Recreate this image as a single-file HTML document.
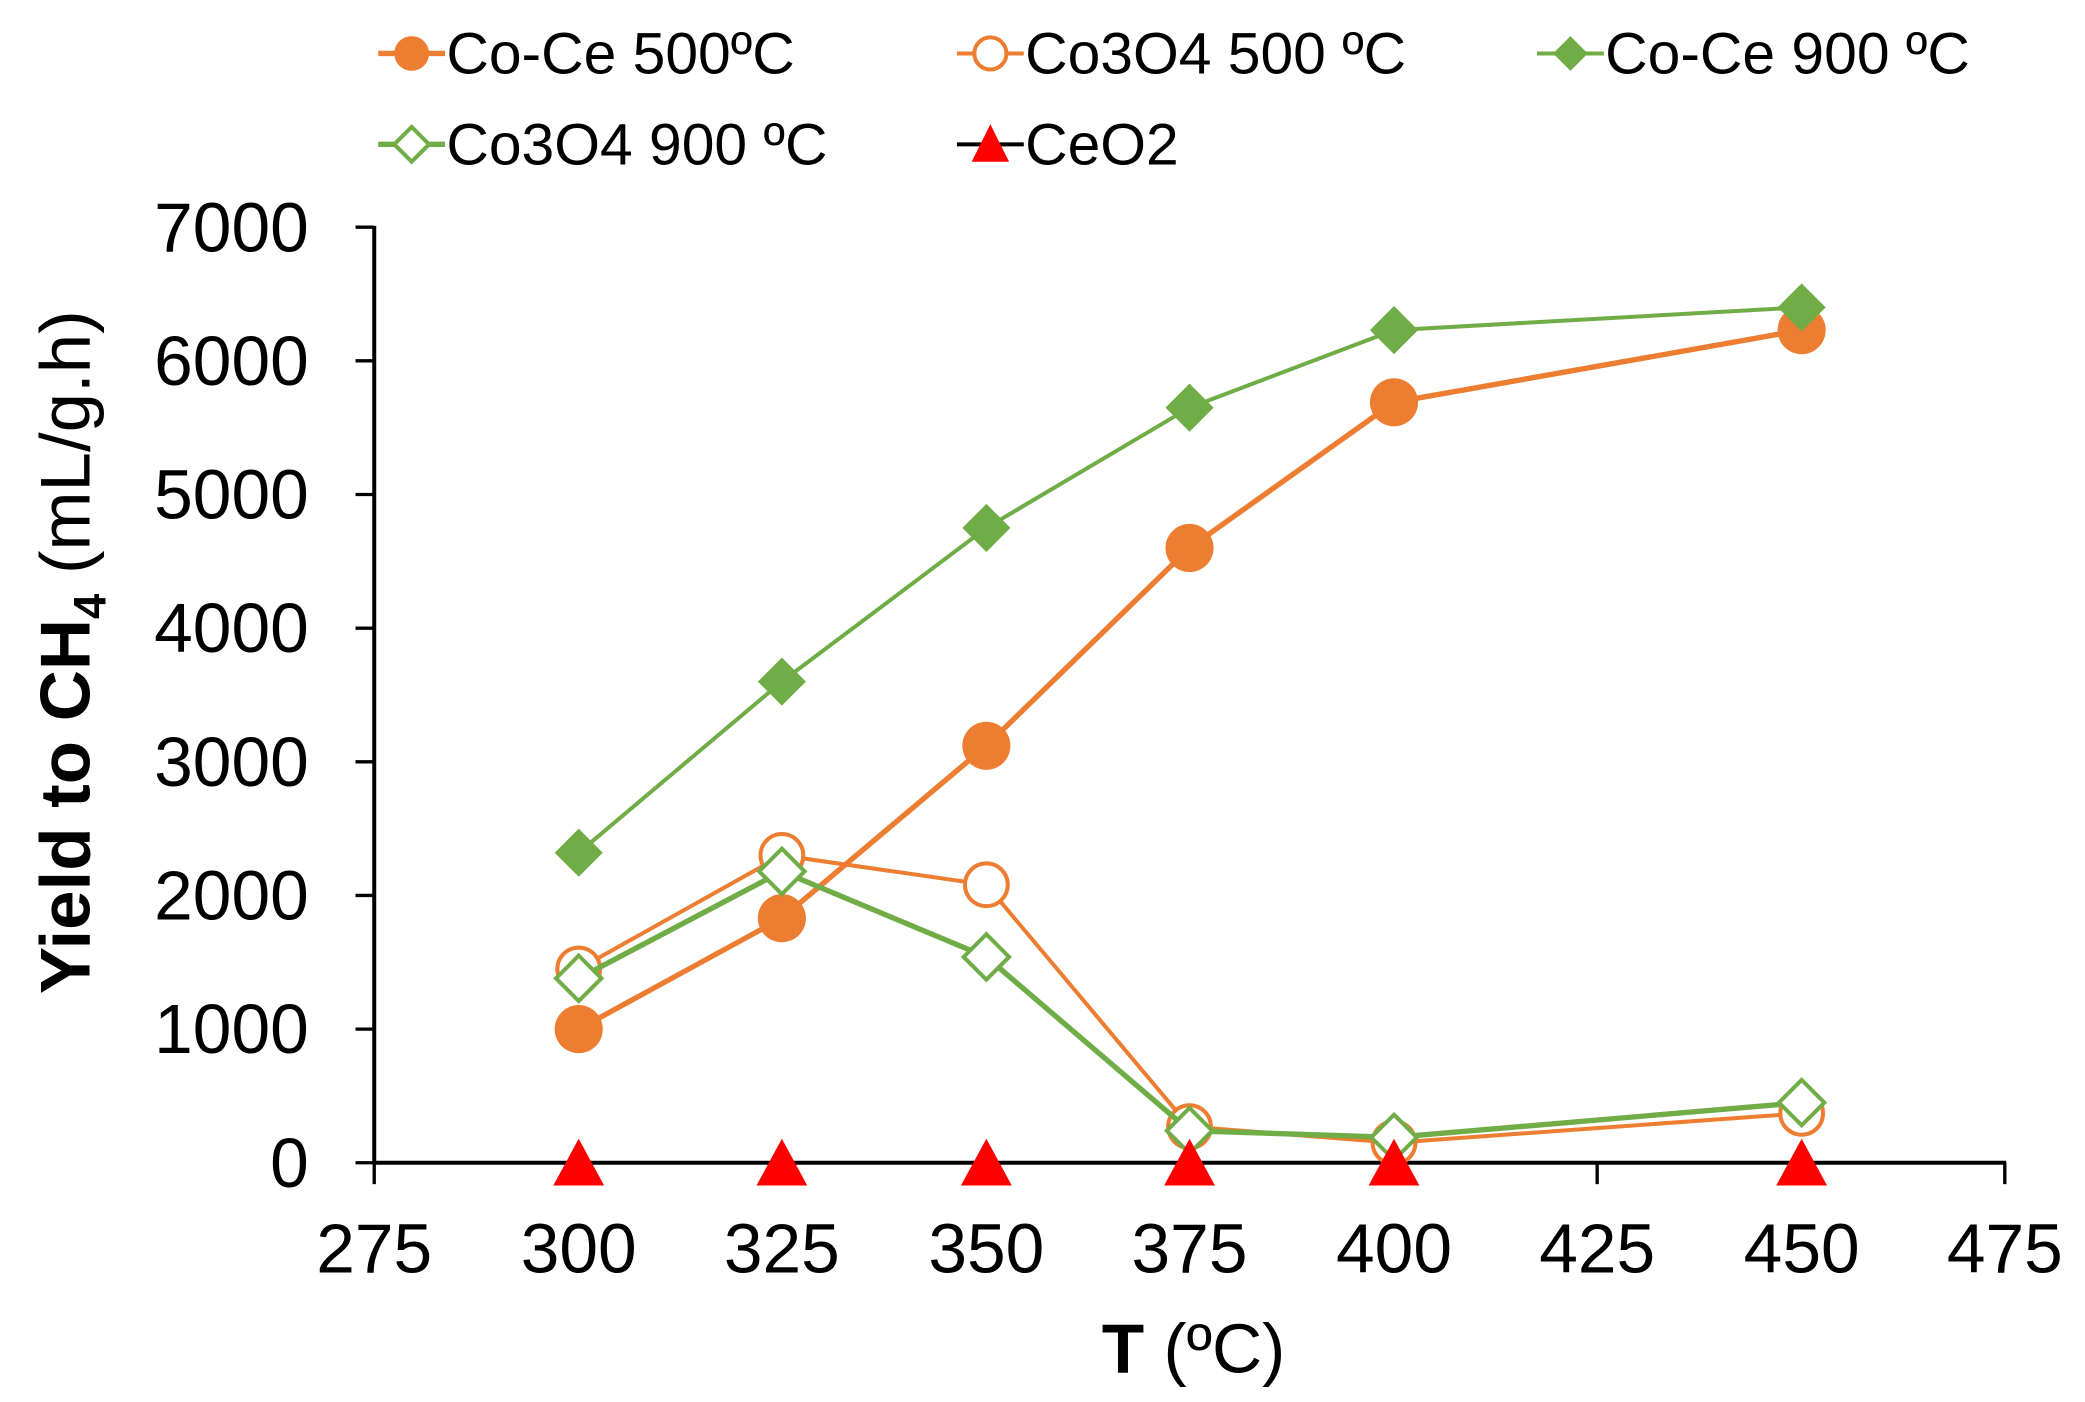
<!DOCTYPE html>
<html><head><meta charset="utf-8"><style>html,body{margin:0;padding:0;background:#fff}svg{display:block}</style></head><body>
<svg width="2085" height="1402" viewBox="0 0 1560 1049" preserveAspectRatio="none" xmlns="http://www.w3.org/2000/svg" font-family="Liberation Sans, Arial, sans-serif">
<g transform="translate(0,-3)">
<g stroke="#000" stroke-width="3" fill="none">
<line x1="280" y1="172" x2="280" y2="874"/>
<line x1="279" y1="873" x2="1501" y2="873"/>
<g stroke-width="2.5">
<line x1="266" y1="173" x2="280" y2="173"/><line x1="266" y1="273" x2="280" y2="273"/><line x1="266" y1="373" x2="280" y2="373"/><line x1="266" y1="473" x2="280" y2="473"/><line x1="266" y1="573" x2="280" y2="573"/><line x1="266" y1="673" x2="280" y2="673"/><line x1="266" y1="773" x2="280" y2="773"/><line x1="266" y1="873" x2="280" y2="873"/>
<line x1="280" y1="873" x2="280" y2="889"/><line x1="433" y1="873" x2="433" y2="889"/><line x1="585" y1="873" x2="585" y2="889"/><line x1="738" y1="873" x2="738" y2="889"/><line x1="890" y1="873" x2="890" y2="889"/><line x1="1043" y1="873" x2="1043" y2="889"/><line x1="1195" y1="873" x2="1195" y2="889"/><line x1="1348" y1="873" x2="1348" y2="889"/><line x1="1500" y1="873" x2="1500" y2="889"/>
</g></g>
<g font-size="52" text-anchor="end" fill="#000">
<text x="231" y="191">7000</text><text x="231" y="291">6000</text><text x="231" y="391">5000</text><text x="231" y="491">4000</text><text x="231" y="591">3000</text><text x="231" y="691">2000</text><text x="231" y="791">1000</text><text x="231" y="891">0</text>
</g>
<g font-size="52" text-anchor="middle" fill="#000">
<text x="280" y="955">275</text><text x="433" y="955">300</text><text x="585" y="955">325</text><text x="738" y="955">350</text><text x="890" y="955">375</text><text x="1043" y="955">400</text><text x="1195" y="955">425</text><text x="1348" y="955">450</text><text x="1500" y="955">475</text>
</g>
<polyline fill="none" stroke="#ED7D31" stroke-width="3" points="433,728 585,643 738,665 890,846 1043,858 1348,836"/>
<g fill="#fff" stroke="#ED7D31" stroke-width="3"><circle cx="433" cy="728" r="16"/><circle cx="585" cy="643" r="16"/><circle cx="738" cy="665" r="16"/><circle cx="890" cy="846" r="16"/><circle cx="1043" cy="858" r="16"/><circle cx="1348" cy="836" r="16"/></g>
<polyline fill="none" stroke="#ED7D31" stroke-width="4" points="433,773 585,690 738,561 890,413 1043,304 1348,250"/>
<g fill="#ED7D31"><circle cx="433" cy="773" r="18"/><circle cx="585" cy="690" r="18"/><circle cx="738" cy="561" r="18"/><circle cx="890" cy="413" r="18"/><circle cx="1043" cy="304" r="18"/><circle cx="1348" cy="250" r="18"/></g>
<polyline fill="none" stroke="#70AD47" stroke-width="4" points="433,735 585,655 738,719 890,849 1043,854 1348,828"/>
<g fill="#fff" stroke="#70AD47" stroke-width="3">
<polygon points="433,718 450,735 433,752 416,735"/><polygon points="585,638 602,655 585,672 568,655"/><polygon points="738,702 755,719 738,736 721,719"/><polygon points="890,832 907,849 890,866 873,849"/><polygon points="1043,837 1060,854 1043,871 1026,854"/><polygon points="1348,811 1365,828 1348,845 1331,828"/></g>
<polyline fill="none" stroke="#70AD47" stroke-width="3" points="433,641 585,513 738,398 890,308 1043,250 1348,233"/>
<g fill="#70AD47">
<polygon points="433,623 451,641 433,659 415,641"/><polygon points="585,495 603,513 585,531 567,513"/><polygon points="738,380 756,398 738,416 720,398"/><polygon points="890,290 908,308 890,326 872,308"/><polygon points="1043,232 1061,250 1043,268 1025,250"/><polygon points="1348,215 1366,233 1348,251 1330,233"/></g>
<g fill="#FF0000">
<polygon points="433,855 452,890 414,890"/><polygon points="585,855 604,890 566,890"/><polygon points="738,855 757,890 719,890"/><polygon points="890,855 909,890 871,890"/><polygon points="1043,855 1062,890 1024,890"/><polygon points="1348,855 1367,890 1329,890"/></g>
</g>
<text x="893" y="1027" font-size="52" text-anchor="middle"><tspan font-weight="bold">T</tspan> (ºC)</text>
<text transform="translate(67,488) rotate(-90)" font-size="53" text-anchor="middle"><tspan font-weight="bold">Yield to CH</tspan><tspan font-weight="bold" font-size="34" dy="12">4</tspan><tspan dy="-12"> (mL/g.h)</tspan></text>
<g font-size="44" fill="#000">
<line x1="283" y1="40" x2="333" y2="40" stroke="#ED7D31" stroke-width="4"/><circle cx="308" cy="40" r="13" fill="#ED7D31"/><text x="334" y="55">Co-Ce 500ºC</text>
<line x1="716" y1="40" x2="766" y2="40" stroke="#ED7D31" stroke-width="3"/><circle cx="741" cy="40" r="12" fill="#fff" stroke="#ED7D31" stroke-width="3"/><text x="767" y="55">Co3O4 500 ºC</text>
<line x1="1150" y1="40" x2="1200" y2="40" stroke="#70AD47" stroke-width="3"/><polygon points="1175,27 1188,40 1175,53 1162,40" fill="#70AD47"/><text x="1201" y="55">Co-Ce 900 ºC</text>
<line x1="283" y1="108" x2="333" y2="108" stroke="#70AD47" stroke-width="4"/><polygon points="308,95 321,108 308,121 295,108" fill="#fff" stroke="#70AD47" stroke-width="3"/><text x="334" y="123">Co3O4 900 ºC</text>
<line x1="716" y1="108" x2="766" y2="108" stroke="#000" stroke-width="3"/><polygon points="741,93 755,121 727,121" fill="#FF0000"/><text x="767" y="123">CeO2</text>
</g>
</svg>
</body></html>
